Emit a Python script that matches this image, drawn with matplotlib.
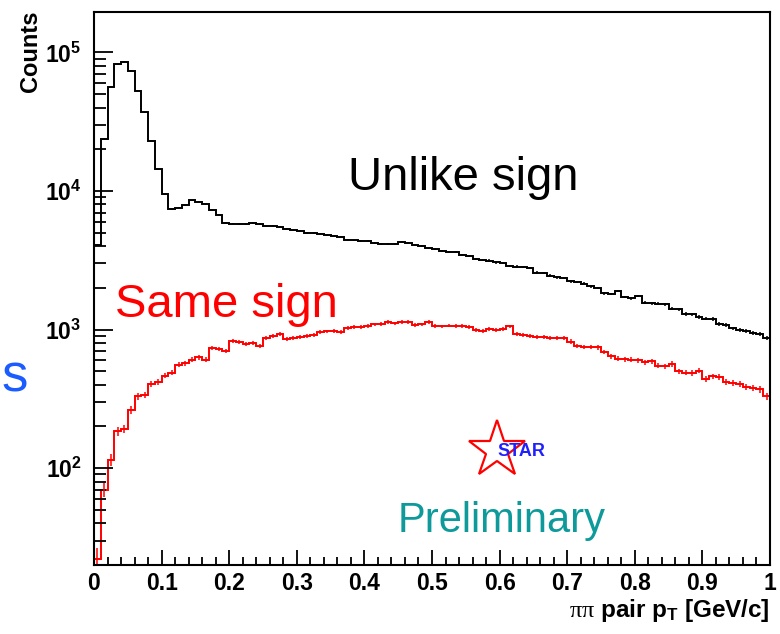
import numpy as np
import matplotlib
matplotlib.use("Agg")
import matplotlib.pyplot as plt
from matplotlib.lines import Line2D
from matplotlib.ticker import LogLocator, NullFormatter, MultipleLocator

plt.rcParams['font.family'] = ['Liberation Sans', 'DejaVu Sans']
plt.rcParams['mathtext.fontset'] = 'custom'
plt.rcParams['mathtext.rm'] = 'Liberation Sans'
plt.rcParams['mathtext.it'] = 'Liberation Serif'
plt.rcParams['mathtext.bf'] = 'Liberation Sans:bold'

# 100 bins of 0.01 GeV/c from 0 to 1
edges = np.linspace(0, 1, 101)

unlike = [4100, 23700, 56700, 82000, 86000, 74000, 53000, 37000, 23000, 14400,
          9460, 7400, 7600, 7900, 8550, 8360, 8000, 7300, 6750, 5880,
          5830, 5800, 5780, 5880, 5800, 5600, 5570, 5520, 5300, 5260,
          5150, 5000, 4980, 4920, 4800, 4750, 4650, 4450, 4400, 4380,
          4350, 4200, 4170, 4150, 4170, 4280, 4250, 4050, 4000, 3850,
          3800, 3700, 3650, 3620, 3480, 3420, 3250, 3200, 3150, 3050,
          3020, 2880, 2850, 2820, 2800, 2580, 2550, 2450, 2380, 2350,
          2230, 2200, 2150, 2050, 2000, 1830, 1810, 1900, 1720, 1680,
          1750, 1560, 1550, 1540, 1520, 1420, 1400, 1300, 1290, 1230,
          1200, 1190, 1100, 1080, 1020, 1000, 980, 950, 930, 870]

same = [22, 70, 115, 184, 192, 264, 329, 339, 406, 422,
        466, 490, 557, 574, 605, 630, 605, 735, 725, 700,
        830, 815, 790, 805, 765, 870, 900, 930, 860, 870,
        885, 900, 920, 960, 970, 975, 965, 1030, 1040, 1045,
        1060, 1090, 1100, 1130, 1110, 1140, 1130, 1085, 1090, 1140,
        1060, 1055, 1070, 1060, 1065, 1040, 990, 980, 1010, 1000,
        1005, 1055, 925, 915, 895, 890, 885, 870, 865, 870,
        820, 760, 750, 750, 745, 690, 640, 615, 610, 605,
        600, 580, 590, 548, 545, 565, 500, 490, 485, 505,
        440, 460, 455, 420, 415, 405, 385, 380, 370, 330]

xticks = [0, 0.1, 0.2, 0.3, 0.4, 0.5, 0.6, 0.7, 0.8, 0.9, 1.0]
xtick_labels = ['0', '0.1', '0.2', '0.3', '0.4', '0.5', '0.6', '0.7', '0.8', '0.9', '1']
yticks = [1e2, 1e3, 1e4, 1e5]
ytick_labels = [r'$\mathbf{10^{2}}$', r'$\mathbf{10^{3}}$', r'$\mathbf{10^{4}}$', r'$\mathbf{10^{5}}$']

W, H = 780, 634
fig = plt.figure(figsize=(W / 100, H / 100), dpi=100)
ax = fig.add_axes([94 / W, 69 / H, 676 / W, 553 / H])

centers = 0.5 * (edges[:-1] + edges[1:])
unlike = np.array(unlike, dtype=float)
same = np.array(same, dtype=float)

ax.stairs(unlike, edges, color='black', lw=1.4)
ax.errorbar(centers, unlike, yerr=np.sqrt(unlike), fmt='none', ecolor='black', elinewidth=1.1)
ax.stairs(same, edges, color='red', lw=1.4)
ax.errorbar(centers, same, yerr=np.sqrt(same), fmt='none', ecolor='red', elinewidth=1.1)

ax.set_yscale('log')
ax.set_xlim(0, 1)
ax.set_ylim(20, 1.96e5)

ax.set_xticks(xticks)
ax.set_xticklabels(xtick_labels, fontweight='bold', fontsize=16.5)
ax.xaxis.set_minor_locator(MultipleLocator(0.02))
ax.set_yticks(yticks)
ax.set_yticklabels(ytick_labels, fontsize=16.5)
ax.yaxis.set_minor_locator(LogLocator(base=10, subs=np.arange(2, 10)))
ax.yaxis.set_minor_formatter(NullFormatter())

ax.tick_params(axis='x', which='major', direction='in', length=11, width=1.3, pad=5, top=False)
ax.tick_params(axis='x', which='minor', direction='in', length=6, width=1.3, top=False)
ax.tick_params(axis='y', which='major', direction='in', length=14, width=1.3, pad=9, right=False)
ax.tick_params(axis='y', which='minor', direction='in', length=8.5, width=1.3, right=False)
for s in ax.spines.values():
    s.set_linewidth(1.5)

# axis titles, ROOT style at the ends of the axes
fig.text(30 / W, 1 - 10 / H, 'Counts', rotation=90, ha='center', va='top',
         fontweight='bold', fontsize=17)
fig.text(770 / W, 1 - 597 / H, r'$\pi\pi$ pair p$_{\mathbf{T}}$ [GeV/c]', ha='right', va='top',
         fontweight='bold', fontsize=17.5)

# annotations
fig.text(348 / W, 1 - 190 / H, 'Unlike sign', color='black', fontsize=34, va='baseline')
fig.text(115 / W, 1 - 317 / H, 'Same sign', color='red', fontsize=34, va='baseline')
fig.text(398 / W, 1 - 532 / H, 'Preliminary', color='#0e9a9a', fontsize=30, va='baseline')
fig.text(1 / W, 1 - 392 / H, 's', color='#1a5cff', fontsize=38, va='baseline')

# STAR logo
fig.add_artist(Line2D([497 / W], [1 - 450 / H], marker='*', markersize=43,
                      markerfacecolor='none', markeredgecolor='red', markeredgewidth=1.6,
                      transform=fig.transFigure))
fig.text(521 / W, 1 - 452 / H, 'STAR', color='#2020ff', fontsize=13, fontweight='bold',
         ha='center', va='center')

fig.savefig('out.png', dpi=100)
